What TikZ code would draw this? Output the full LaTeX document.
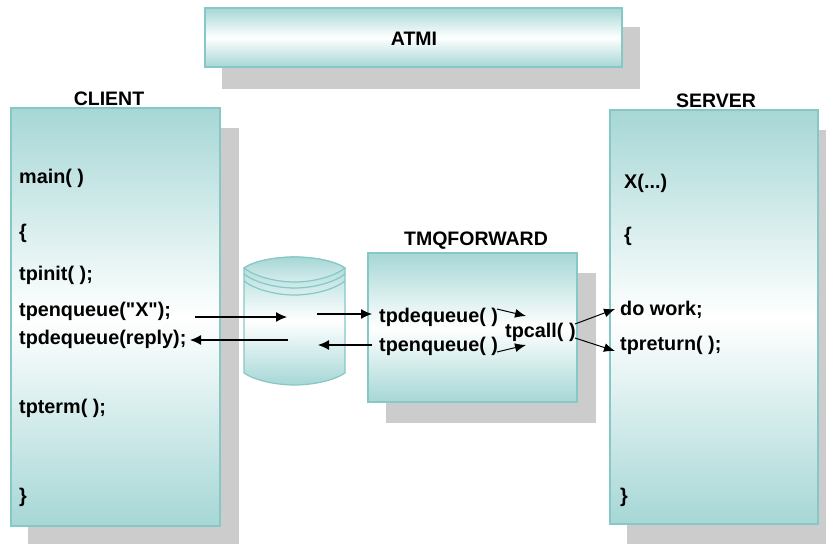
\documentclass[tikz,border=0pt]{standalone}
\usepackage{fontspec}
\newfontfamily\diagramfont{Liberation Sans}
\usetikzlibrary{arrows.meta}
\definecolor{teal1}{HTML}{A6D7D6}
\definecolor{edge1}{HTML}{85C8C6}
\definecolor{shade1}{HTML}{CCCCCC}
\tikzset{
  x=1pt,y=-1pt,
  panel/.style={draw=edge1,line width=1.2pt,top color=teal1,bottom color=teal1,middle color=white},
  shadowbox/.style={fill=shade1,draw=none},
  code/.style={anchor=base west,inner sep=0pt,font=\diagramfont\fontsize{19.8}{22}\selectfont\bfseries},
  title/.style={anchor=base,inner sep=0pt,font=\diagramfont\fontsize{19.5}{22}\selectfont\bfseries},
  flow/.style={-{Latex[length=11pt,width=10pt]},line width=1.2pt,black},
  flowthin/.style={-{Latex[length=11pt,width=9pt]},line width=1pt,black},
}
\begin{document}
\begin{tikzpicture}
\useasboundingbox (0,0) rectangle (826,544);
% shadows
\fill[shadowbox] (222,27) rectangle (640,89);
\fill[shadowbox] (28,128) rectangle (239,544);
\fill[shadowbox] (627,130) rectangle (826,544);
\fill[shadowbox] (386,273) rectangle (596,423);
% panels
\draw[panel] (205,8) rectangle (622,67);
\draw[panel] (11,108) rectangle (220,526);
\draw[panel] (610,110) rectangle (818,524);
\draw[panel] (368,253) rectangle (577,402);
% cylinder
\path[panel] (244,268) -- (244,373) .. controls (254,380) and (275,385) .. (294.5,385) .. controls (314,385) and (335,380) .. (345,373) -- (345,268) .. controls (335,261) and (314,257) .. (294.5,257) .. controls (275,257) and (254,261) .. (244,268) -- cycle;
\draw[edge1,line width=1.2pt,top color=teal1,bottom color=teal1!45!white] (244,268) .. controls (254,261) and (275,257) .. (294.5,257) .. controls (314,257) and (335,261) .. (345,268) .. controls (335,276) and (314,282) .. (294.5,282) .. controls (275,282) and (254,276) .. (244,268) -- cycle;
\draw[edge1,line width=1.2pt] (244,274) .. controls (254,282) and (275,288) .. (294.5,288) .. controls (314,288) and (335,282) .. (345,274);
\draw[edge1,line width=1.2pt] (244,281) .. controls (254,289) and (275,295) .. (294.5,295) .. controls (314,295) and (335,289) .. (345,281);
% titles
\node[title] (atmi) at (414,45) {ATMI};
\node[title] (client) at (109,105) {CLIENT};
\node[title] (server) at (716,107) {SERVER};
\node[title] (tmq) at (476,245) {TMQFORWARD};
% client code
\node[code] (cmain) at (19,183) {main( )};
\node[code] (cbrace) at (19,238) {\{};
\node[code] (cinit) at (19,280) {tpinit( );};
\node[code] (cenq) at (19,316) {tpenqueue("X");};
\node[code] (cdeq) at (19,344) {tpdequeue(reply);};
\node[code] (cterm) at (19,413) {tpterm( );};
\node[code] (cend) at (19,502) {\}};
% server code
\node[code] (sx) at (624,188) {X(...)};
\node[code] (sbrace) at (624,241) {\{};
\node[code] (swork) at (620,315) {do work;};
\node[code] (sret) at (620,350) {tpreturn( );};
\node[code] (send) at (620,502) {\}};
% tmqforward code
\node[code] (tdeq) at (379,322) {tpdequeue( )};
\node[code] (tenq) at (379,351) {tpenqueue( )};
\node[code] (tcall) at (505,337) {tpcall( )};
% free ends
\coordinate (q1) at (287,317);
\coordinate (q1s) at (195,317);
\coordinate (q2s) at (288,340);
\coordinate (q2) at (190,340);
\coordinate (q3s) at (317,314);
\coordinate (q3) at (372,314);
\coordinate (q4s) at (372,345);
\coordinate (q4) at (318,345);
\coordinate (d1s) at (497,309);
\coordinate (d1) at (526,316);
\coordinate (d2s) at (497,352);
\coordinate (d2) at (526,345);
\coordinate (c1s) at (575,324);
\coordinate (c1) at (615,309);
\coordinate (c2s) at (575,338);
\coordinate (c2) at (615,351);
\draw[flow] (q1s) -- (q1);
\draw[flow] (q2s) -- (q2);
\draw[flow] (q3s) -- (q3);
\draw[flow] (q4s) -- (q4);
\draw[flowthin] (d1s) -- (d1);
\draw[flowthin] (d2s) -- (d2);
\draw[flowthin] (c1s) -- (c1);
\draw[flowthin] (c2s) -- (c2);
\end{tikzpicture}
\end{document}
